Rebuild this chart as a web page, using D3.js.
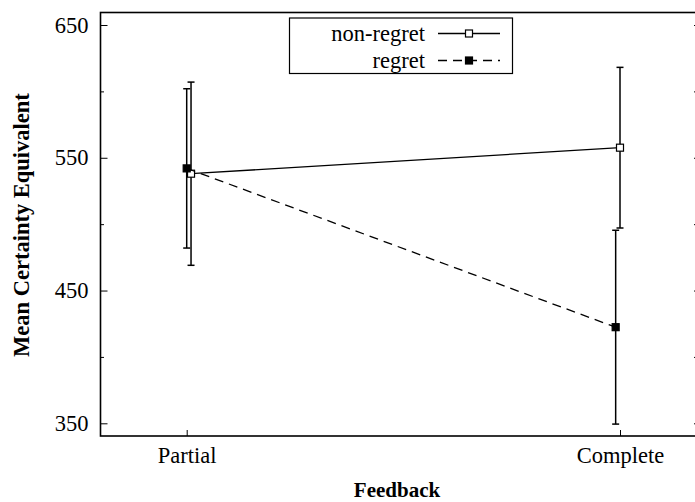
<!DOCTYPE html>
<meta charset="utf-8">
<style>
body { margin: 0; background: #fff; }
svg { display: block; font-family: "Liberation Serif", "DejaVu Serif", serif; }
.axis path { display: none; }
.axis line { stroke: #000; stroke-width: 1; }
.axis text { font-size: 22.5px; fill: #000; font-family: "Liberation Serif", serif; }
</style>
<body>
<script src="https://d3js.org/d3.v7.min.js"></script>
<script>

// data
var categories = ["Partial", "Complete"];
var catX = [1, 2];
var seriesNames = ["non-regret", "regret"];
var nonRegretX = [1.01, 2];
var nonRegretMean = [538, 557.6];
var nonRegretErr = [69, 60.5];
var regretX = [1, 1.99];
var regretMean = [542, 422.4];
var regretErr = [60, 73];
var yMajor = [350, 450, 550, 650];
var yMinor = [400, 500, 600];

var width = 695, height = 502;
var frame = {left: 100.5, right: 698, top: 12.5, bottom: 436};

var x = d3.scaleLinear().domain([1, 2]).range([186.7, 620]);
var y = d3.scaleLinear().domain([350, 650]).range([423.3, 25]);

var svg = d3.select("body").append("svg")
    .attr("width", width)
    .attr("height", height);

svg.append("rect").attr("width", width).attr("height", height).attr("fill", "#fff");

// ticks (inward, mirrored on the right)
svg.append("g").attr("class", "axis")
    .attr("transform", "translate(" + frame.left + ",0)")
    .call(d3.axisLeft(y).tickValues(yMajor).tickSize(-7).tickPadding(12).tickFormat(d3.format("d")));
svg.append("g").attr("class", "axis")
    .attr("transform", "translate(" + frame.left + ",0)")
    .call(d3.axisLeft(y).tickValues(yMinor).tickSize(-3.5).tickFormat(""));
svg.append("g").attr("class", "axis")
    .attr("transform", "translate(" + frame.right + ",0)")
    .call(d3.axisRight(y).tickValues(yMajor.concat(yMinor)).tickSize(-4).tickFormat(""));
svg.append("g").attr("class", "axis")
    .attr("transform", "translate(0," + frame.bottom + ")")
    .call(d3.axisBottom(x).tickValues(catX).tickSize(-6).tickPadding(11)
      .tickFormat(function(d, i) { return categories[i]; }));

// frame
svg.append("rect")
    .attr("x", frame.left).attr("y", frame.top)
    .attr("width", frame.right - frame.left)
    .attr("height", frame.bottom - frame.top)
    .attr("fill", "none")
    .attr("stroke", "#000")
    .attr("stroke-width", 1.6);

// axis titles
svg.append("text")
    .attr("x", 397).attr("y", 497)
    .attr("text-anchor", "middle")
    .style("font-weight", "bold").style("font-size", "21px")
    .text("Feedback");
svg.append("text")
    .attr("transform", "translate(29,225) rotate(-90)")
    .attr("text-anchor", "middle")
    .style("font-weight", "bold").style("font-size", "22.5px")
    .text("Mean Certainty Equivalent");

var series = [
  {name: seriesNames[0], xs: nonRegretX, mean: nonRegretMean, err: nonRegretErr, dash: null, filled: false},
  {name: seriesNames[1], xs: regretX, mean: regretMean, err: regretErr, dash: "9,6", filled: true}
];

var line = d3.line()
    .x(function(d) { return x(d.x); })
    .y(function(d) { return y(d.v); });

series.forEach(function(s) {
  var pts = s.xs.map(function(xv, i) { return {x: xv, v: s.mean[i], e: s.err[i]}; });
  var g = svg.append("g");

  g.append("path")
      .datum(pts)
      .attr("d", line)
      .attr("fill", "none")
      .attr("stroke", "#000")
      .attr("stroke-width", 1.3)
      .attr("stroke-dasharray", s.dash);

  var bars = g.selectAll(".err").data(pts).enter().append("g");
  bars.append("line")
      .attr("x1", function(d) { return x(d.x); })
      .attr("x2", function(d) { return x(d.x); })
      .attr("y1", function(d) { return y(d.v - d.e); })
      .attr("y2", function(d) { return y(d.v + d.e); })
      .attr("stroke", "#000").attr("stroke-width", 1.5);
  [-1, 1].forEach(function(sign) {
    bars.append("line")
        .attr("x1", function(d) { return x(d.x) - 3.5; })
        .attr("x2", function(d) { return x(d.x) + 3.5; })
        .attr("y1", function(d) { return y(d.v + sign * d.e); })
        .attr("y2", function(d) { return y(d.v + sign * d.e); })
        .attr("stroke", "#000").attr("stroke-width", 1.5);
  });

  g.selectAll(".pt").data(pts).enter().append("rect")
      .attr("x", function(d) { return x(d.x) - 3.5; })
      .attr("y", function(d) { return y(d.v) - 3.5; })
      .attr("width", 7).attr("height", 7)
      .attr("fill", s.filled ? "#000" : "#fff")
      .attr("stroke", "#000").attr("stroke-width", 1.2);
});

// legend
var legend = svg.append("g");
legend.append("rect")
    .attr("x", 289.5).attr("y", 18)
    .attr("width", 223).attr("height", 55.5)
    .attr("fill", "#fff").attr("stroke", "#000").attr("stroke-width", 1.2);

series.forEach(function(s, i) {
  var ly = 33.5 + i * 27;
  legend.append("text")
      .attr("x", 425).attr("y", ly + 7)
      .attr("text-anchor", "end")
      .style("font-size", "22.5px")
      .text(s.name);
  legend.append("line")
      .attr("x1", 438).attr("x2", 500)
      .attr("y1", ly).attr("y2", ly)
      .attr("stroke", "#000").attr("stroke-width", 1.3)
      .attr("stroke-dasharray", s.dash);
  legend.append("rect")
      .attr("x", 469 - 3.5).attr("y", ly - 3.5)
      .attr("width", 7).attr("height", 7)
      .attr("fill", s.filled ? "#000" : "#fff")
      .attr("stroke", "#000").attr("stroke-width", 1.2);
});
</script>
